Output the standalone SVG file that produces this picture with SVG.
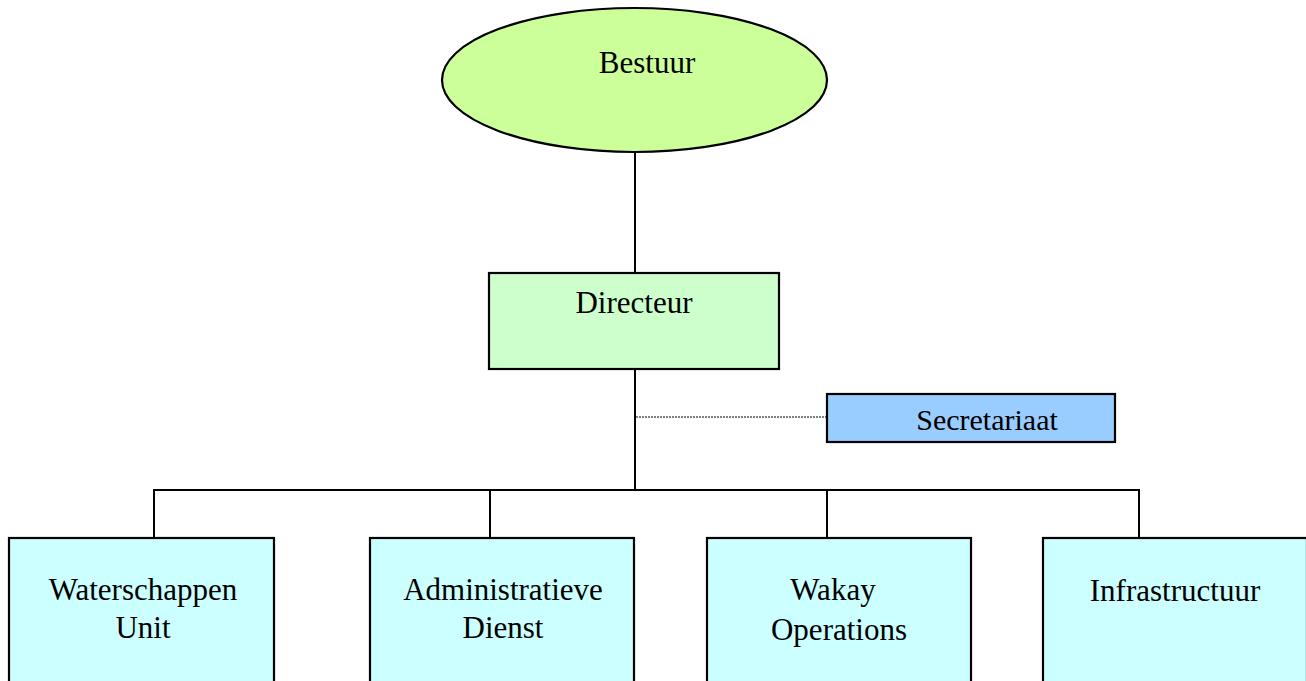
<svg xmlns="http://www.w3.org/2000/svg" width="1306" height="681" viewBox="0 0 1306 681">
<style>
.box{stroke:#000;stroke-width:2.2}
.lbl{font-family:"Liberation Serif","Times New Roman",serif;font-size:31px;fill:#000;text-anchor:middle}
.ln{stroke:#000;stroke-width:2;fill:none}
.dot{stroke:#000;stroke-width:1.2;stroke-dasharray:2 1;fill:none}
</style>
<rect width="1306" height="681" fill="#fff"/>
<g id="connectors">
<line class="ln" x1="635" y1="152" x2="635" y2="273"/>
<line class="ln" x1="635" y1="369" x2="635" y2="490"/>
<line class="dot" x1="636" y1="417" x2="827" y2="417"/>
<polyline class="ln" points="154,538 154,490 1139,490 1139,538"/>
<line class="ln" x1="490" y1="490" x2="490" y2="538"/>
<line class="ln" x1="827" y1="490" x2="827" y2="538"/>
</g>
<g id="bestuur">
<ellipse class="box" cx="634.5" cy="80" rx="192.5" ry="72" fill="#CCFF99"/>
<text class="lbl" x="647" y="73">Bestuur</text>
</g>
<g id="directeur">
<rect class="box" x="489" y="273" width="290" height="96" fill="#CCFFCC"/>
<text class="lbl" x="634" y="313">Directeur</text>
</g>
<g id="secretariaat">
<rect class="box" x="827" y="394" width="288" height="48" fill="#99CCFF"/>
<text class="lbl" x="987" y="430" style="font-size:30px">Secretariaat</text>
</g>
<g id="waterschappen">
<rect class="box" x="9" y="538" width="265" height="160" fill="#CCFFFF"/>
<text class="lbl" x="143" y="600">Waterschappen</text>
<text class="lbl" x="143" y="638">Unit</text>
</g>
<g id="administratieve">
<rect class="box" x="370" y="538" width="264" height="160" fill="#CCFFFF"/>
<text class="lbl" x="503" y="600">Administratieve</text>
<text class="lbl" x="503" y="638">Dienst</text>
</g>
<g id="wakay">
<rect class="box" x="707" y="538" width="264" height="160" fill="#CCFFFF"/>
<text class="lbl" x="833" y="600">Wakay</text>
<text class="lbl" x="839" y="640">Operations</text>
</g>
<g id="infrastructuur">
<rect class="box" x="1043" y="538" width="264" height="160" fill="#CCFFFF"/>
<text class="lbl" x="1175" y="601">Infrastructuur</text>
</g>
</svg>
